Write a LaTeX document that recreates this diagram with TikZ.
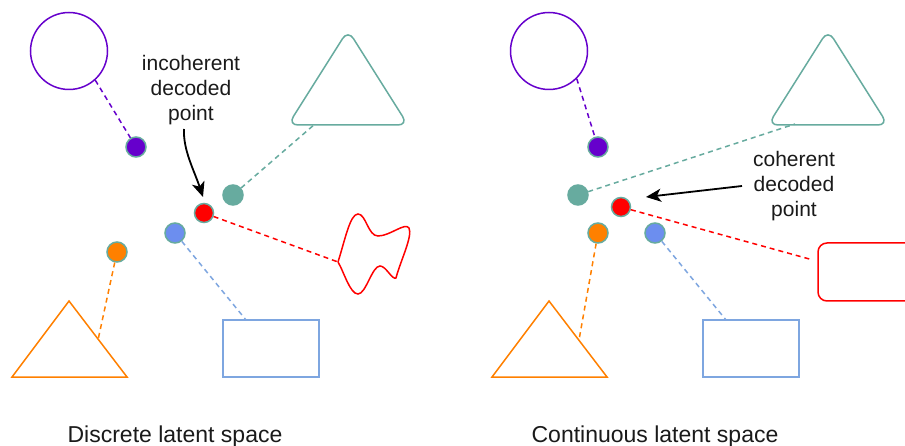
\documentclass[tikz,border=0pt]{standalone}
\usepackage{fontspec}
\setmainfont{Liberation Sans}
\usetikzlibrary{arrows.meta}
\definecolor{cpurple}{HTML}{6600CC}
\definecolor{cteal}{HTML}{67AB9F}
\definecolor{cred}{HTML}{FF0000}
\definecolor{cblue}{HTML}{7EA6E0}
\definecolor{cbluedot}{HTML}{6C8EEF}
\definecolor{corange}{HTML}{FF8000}
\definecolor{ctext}{HTML}{1A1A1A}
\begin{document}
\begin{tikzpicture}[x=1pt,y=-1pt,
  shp/.style={line width=1.5pt},
  conn/.style={line width=1.5pt, dash pattern=on 5pt off 4pt},
  dot/.style={circle, minimum size=20pt, inner sep=0pt, draw=cteal, line width=1.5pt},
  bigcirc/.style={circle, minimum size=77pt, inner sep=0pt, draw=cpurple, line width=1.5pt},
  box/.style={rectangle, minimum width=96pt, minimum height=57pt, inner sep=0pt, draw=cblue, line width=1.5pt},
  lbl/.style={text=ctext, align=center, font=\fontsize{21}{25}\selectfont},
  title/.style={text=ctext, anchor=base, font=\fontsize{23}{27}\selectfont},
  arr/.style={line width=1.8pt, -{Stealth[length=15pt,width=13pt,inset=4pt]}}
]
\clip (0,0) rectangle (905,446);
\fill[white] (0,0) rectangle (905,446);

% ---------------- Left panel ----------------
\node[bigcirc] (Lcirc) at (69,51) {};
\draw[shp, cteal, rounded corners=10pt] (348,30) -- (408,125) -- (288,125) -- cycle;
\coordinate (Ltri) at (315,124);
\draw[shp, cred] (338,262) .. controls (345,240) and (350,214) .. (358,214)
  .. controls (366,214) and (368,236) .. (378,236)
  .. controls (390,236) and (405,222) .. (409,228)
  .. controls (413,236) and (400,262) .. (396,278)
  .. controls (392,280) and (386,266) .. (380,266)
  .. controls (372,266) and (366,294) .. (358,294)
  .. controls (350,294) and (344,272) .. (338,262);
\coordinate (Lblob) at (338,262);
\node[box] (Lrect) at (271,348.5) {};
\coordinate (Lrtop) at (246,320);
\draw[shp, corange] (69,301) -- (127,377) -- (12,377) -- cycle;
\coordinate (Lotri) at (98,340);

\node[dot, fill=cpurple] (Lpd) at (136,147) {};
\node[dot, fill=cteal] (Ltd) at (233,195) {};
\node[dot, fill=cred, minimum size=19pt] (Lrd) at (204,213) {};
\node[dot, fill=cbluedot] (Lbd) at (175,233) {};
\node[dot, fill=corange] (Lod) at (117,252) {};

\draw[conn, cpurple] (Lcirc.-48) -- (Lpd);
\draw[conn, cteal] (Ltd) -- (Ltri);
\draw[conn, cred] (Lrd) -- (Lblob);
\draw[conn, cblue] (Lbd) -- (Lrtop);
\draw[conn, corange] (Lod) -- (Lotri);

\node[lbl] (Llbl) at (191,90) {incoherent\\decoded\\point};
\coordinate (Larrs) at (184,129);
\coordinate (Larre) at (203,197);
\draw[arr] (Larrs) .. controls (183,150) and (194,170) .. (Larre);

\node[title] (Ltitle) at (175,442) {Discrete latent space};

% ---------------- Right panel ----------------
\node[bigcirc] (Rcirc) at (549,51) {};
\draw[shp, cteal, rounded corners=10pt] (828,30) -- (888,125) -- (768,125) -- cycle;
\coordinate (Rtri) at (795,124);
\draw[shp, cred, rounded corners=9pt] (818,243) rectangle (945,301);
\coordinate (Rbox) at (813,260);
\node[box] (Rrect) at (751,348.5) {};
\coordinate (Rrtop) at (726,320);
\draw[shp, corange] (549,301) -- (607,377) -- (492,377) -- cycle;
\coordinate (Rotri) at (579,340);

\node[dot, fill=cpurple] (Rpd) at (598,147) {};
\node[dot, fill=cteal] (Rtd) at (578,195) {};
\node[dot, fill=cred, minimum size=19pt] (Rrd) at (621,207) {};
\node[dot, fill=cbluedot] (Rbd) at (655,233) {};
\node[dot, fill=corange] (Rod) at (598,233) {};

\draw[conn, cpurple] (Rcirc.-45) -- (Rpd);
\draw[conn, cteal] (Rtd) -- (Rtri);
\draw[conn, cred] (Rrd) -- (Rbox);
\draw[conn, cblue] (Rbd) -- (Rrtop);
\draw[conn, corange] (Rod) -- (Rotri);

\node[lbl] (Rlbl) at (794,186) {coherent\\decoded\\point};
\coordinate (Rarrs) at (742,186);
\coordinate (Rarre) at (646,197);
\draw[arr] (Rarrs) -- (Rarre);

\node[title] (Rtitle) at (655,442) {Continuous latent space};
\end{tikzpicture}
\end{document}
